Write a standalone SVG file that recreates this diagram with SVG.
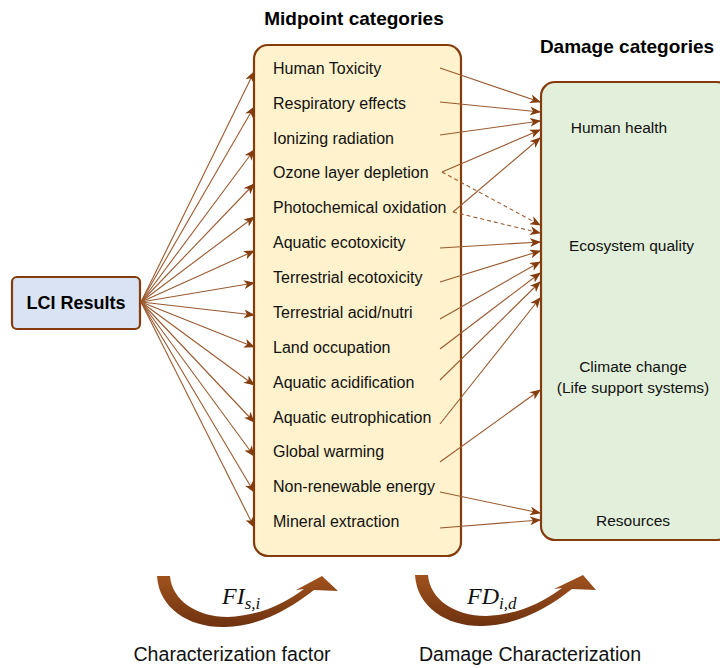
<svg xmlns="http://www.w3.org/2000/svg" width="720" height="668" viewBox="0 0 720 668">
<style>
.box{stroke:#843c0c;stroke-width:2.2}
.t{font-family:"Liberation Sans",Arial,sans-serif;font-size:16px;fill:#111}
.d{font-family:"Liberation Sans",Arial,sans-serif;font-size:15.5px;fill:#111}
.h{font-family:"Liberation Sans",Arial,sans-serif;font-size:19px;font-weight:bold;fill:#000}
.b{font-family:"Liberation Sans",Arial,sans-serif;font-size:19.6px;fill:#111}
.m{font-family:"Liberation Serif","Times New Roman",serif;font-style:italic;font-size:24px;fill:#111}
.c line{stroke:#9a5a30;stroke-width:1.1;marker-end:url(#ah)}
.c line.dash{stroke-dasharray:4 3}
</style>
<defs>
<marker id="ah" markerUnits="userSpaceOnUse" markerWidth="11" markerHeight="9" refX="10" refY="4.5" orient="auto" viewBox="0 0 11 9">
<path d="M0,0 L11,4.5 L0,9 L3,4.5 z" fill="#843c0c"/>
</marker>
<linearGradient id="g" x1="0" y1="0" x2="0" y2="1">
<stop offset="0" stop-color="#a0521d"/>
<stop offset="1" stop-color="#6e3210"/>
</linearGradient>
</defs>

<text class="h" x="354" y="25" text-anchor="middle">Midpoint categories</text>
<text class="h" x="627" y="53" text-anchor="middle">Damage categories</text>

<g id="lci">
<rect class="box" x="12" y="277" width="128" height="52" rx="5" fill="#dae3f3"/>
<text class="h" x="76" y="309" text-anchor="middle" style="font-size:18px">LCI Results</text>
</g>

<g id="midpoint">
<rect class="box" x="254" y="45" width="207" height="511" rx="14" fill="#fff2cc"/>
<text class="t" x="273" y="74">Human Toxicity</text>
<text class="t" x="273" y="109">Respiratory effects</text>
<text class="t" x="273" y="144">Ionizing radiation</text>
<text class="t" x="273" y="178">Ozone layer depletion</text>
<text class="t" x="273" y="213">Photochemical oxidation</text>
<text class="t" x="273" y="248">Aquatic ecotoxicity</text>
<text class="t" x="273" y="283">Terrestrial ecotoxicity</text>
<text class="t" x="273" y="318">Terrestrial acid/nutri</text>
<text class="t" x="273" y="353">Land occupation</text>
<text class="t" x="273" y="388">Aquatic acidification</text>
<text class="t" x="273" y="423">Aquatic eutrophication</text>
<text class="t" x="273" y="457">Global warming</text>
<text class="t" x="273" y="492">Non-renewable energy</text>
<text class="t" x="273" y="527">Mineral extraction</text>
</g>

<g id="damage">
<rect class="box" x="541" y="82" width="190" height="458" rx="14" fill="#e2efda"/>
<text class="d" x="619" y="133" text-anchor="middle">Human health</text>
<text class="d" x="631.5" y="251" text-anchor="middle">Ecosystem quality</text>
<text class="d" x="633" y="372" text-anchor="middle">Climate change</text>
<text class="d" x="633" y="393" text-anchor="middle">(Life support systems)</text>
<text class="d" x="633" y="526" text-anchor="middle">Resources</text>
</g>

<g id="connectors" class="c">
<line x1="141" y1="302" x2="254" y2="72"/>
<line x1="141" y1="302" x2="254" y2="107"/>
<line x1="141" y1="302" x2="254" y2="150"/>
<line x1="141" y1="302" x2="254" y2="184"/>
<line x1="141" y1="302" x2="254" y2="217"/>
<line x1="141" y1="302" x2="254" y2="251"/>
<line x1="141" y1="302" x2="254" y2="283"/>
<line x1="141" y1="302" x2="254" y2="315"/>
<line x1="141" y1="302" x2="254" y2="347"/>
<line x1="141" y1="302" x2="254" y2="385"/>
<line x1="141" y1="302" x2="254" y2="422"/>
<line x1="141" y1="302" x2="254" y2="456"/>
<line x1="141" y1="302" x2="254" y2="492"/>
<line x1="141" y1="302" x2="254" y2="527"/>

<line x1="440" y1="68" x2="540" y2="102"/>
<line x1="440" y1="102" x2="540" y2="112"/>
<line x1="440" y1="135" x2="540" y2="121"/>
<line x1="442" y1="172" x2="540" y2="130"/>
<line x1="453" y1="212" x2="540" y2="138"/>
<line class="dash" x1="442" y1="172" x2="540" y2="225"/>
<line class="dash" x1="453" y1="212" x2="540" y2="233"/>
<line x1="440" y1="248" x2="540" y2="242"/>
<line x1="440" y1="282" x2="540" y2="251"/>
<line x1="440" y1="319" x2="540" y2="262"/>
<line x1="440" y1="349" x2="540" y2="273"/>
<line x1="440" y1="380" x2="540" y2="282"/>
<line x1="440" y1="424" x2="540" y2="298"/>
<line x1="440" y1="462" x2="540" y2="390"/>
<line x1="440" y1="492" x2="540" y2="513"/>
<line x1="440" y1="528" x2="540" y2="520"/>
</g>

<g id="char-factor">
<path fill="url(#g)" d="M157,576 C159,609 190,628 225,627 C261,626 291,608 314,590 L338,591 L322,576 L296,590 L304,589 C283,605 257,616 228,617 C196,617 172,600 170,576 Z"/>
<text class="m" x="222" y="604">FI<tspan font-size="17" dy="5">s,i</tspan></text>
<text class="b" x="232" y="661" text-anchor="middle">Characterization factor</text>
</g>

<g id="damage-char">
<path fill="url(#g)" transform="translate(258,-1)" d="M157,576 C159,609 190,628 225,627 C261,626 291,608 314,590 L338,591 L325,576 L296,590 L304,589 C283,605 257,616 228,617 C196,617 172,600 170,576 Z"/>
<text class="m" x="467" y="604">FD<tspan font-size="17" dy="5">i,d</tspan></text>
<text class="b" x="530" y="661" text-anchor="middle">Damage Characterization</text>
</g>
</svg>
